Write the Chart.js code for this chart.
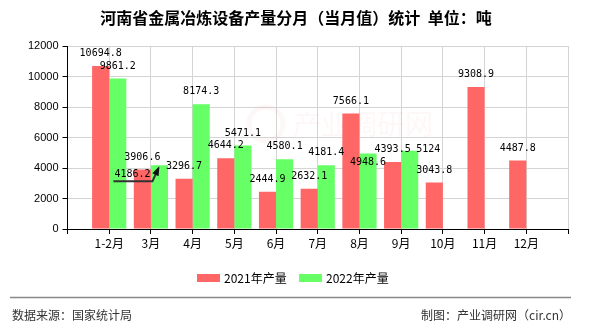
<!DOCTYPE html>
<html lang="zh">
<head>
<meta charset="UTF-8">
<title>河南省金属冶炼设备产量分月（当月值）统计</title>
<script src="https://cdn.jsdelivr.net/npm/chart.js"></script>
<style>
    body { margin: 0; padding: 0; background: #ffffff; }
    #wrap { width: 590px; height: 330px; }
</style>
</head>
<body>
<div id="wrap"><canvas id="chart" width="590" height="330"></canvas></div>
<script>
    // data (unit: tons)
    const months = ['1-2月', '3月', '4月', '5月', '6月', '7月', '8月', '9月', '10月', '11月', '12月'];
    const output2021 = [10694.8, 3906.6, 3296.7, 4644.2, 2444.9, 2632.1, 7566.1, 4393.5, 3043.8, 9308.9, 4487.8];
    const output2022 = [9861.2, 4186.2, 8174.3, 5471.1, 4580.1, 4181.4, 4948.6, 5124, null, null, null];
    const yTicks = [0, 2000, 4000, 6000, 8000, 10000, 12000];

    const titleText = '河南省金属冶炼设备产量分月（当月值）统计  单位：吨';
    const sourceText = '数据来源：国家统计局';
    const makerText = '制图：产业调研网（cir.cn）';

    // empty slot at both ends, like the original axis
    const labels = [''].concat(months, ['']);
    const pad = arr => [null].concat(arr, [null]);

    // labels that were moved away from the bar top in the original
    const labelShift = {
        '2022年产量': {
            '3月': { dx: -27, dy: 21.5, arrow: true },
            '8月': { dx: 0, dy: 21 },
            '9月': { dx: 18.5, dy: 11.5 }
        }
    };

    const valueLabels = {
        id: 'valueLabels',
        afterDatasetsDraw(chart) {
            const ctx = chart.ctx;
            ctx.save();
            ctx.font = '10px "DejaVu Sans Mono", monospace';
            ctx.fillStyle = '#000';
            ctx.textAlign = 'center';
            ctx.textBaseline = 'middle';
            chart.data.datasets.forEach((ds, i) => {
                const meta = chart.getDatasetMeta(i);
                meta.data.forEach((bar, j) => {
                    const v = ds.data[j];
                    if (v === null || v === undefined) return;
                    const shift = (labelShift[ds.label] || {})[labels[j]] || { dx: 0, dy: 0 };
                    const lx = bar.x + shift.dx;
                    const ly = bar.y - 12.5 + shift.dy;
                    const txt = String(v);
                    ctx.fillText(txt, lx, ly);
                    if (shift.arrow) {
                        const w = ctx.measureText(txt).width;
                        const tipX = bar.x - 1, tipY = bar.y + 3;
                        const baseY = ly + 7;
                        ctx.strokeStyle = '#333';
                        ctx.lineWidth = 2;
                        ctx.beginPath();
                        ctx.moveTo(lx - w / 2 - 1, baseY);
                        ctx.lineTo(lx + w / 2 + 2, baseY);
                        ctx.lineTo(tipX, tipY);
                        ctx.stroke();
                        // arrow head
                        const ang = Math.atan2(tipY - baseY, tipX - (lx + w / 2 + 2));
                        ctx.fillStyle = '#111';
                        ctx.beginPath();
                        ctx.moveTo(tipX + Math.cos(ang) * 2, tipY + Math.sin(ang) * 2);
                        ctx.lineTo(tipX - Math.cos(ang - 0.45) * 8, tipY - Math.sin(ang - 0.45) * 8);
                        ctx.lineTo(tipX - Math.cos(ang + 0.45) * 8, tipY - Math.sin(ang + 0.45) * 8);
                        ctx.closePath();
                        ctx.fill();
                        ctx.fillStyle = '#000';
                    }
                });
            });
            ctx.restore();
        }
    };

    // title, legend, footer and faint watermark
    const decorations = {
        id: 'decorations',
        beforeDatasetsDraw(chart) {
            const ctx = chart.ctx;
            ctx.save();
            ctx.fillStyle = 'rgba(235, 90, 90, 0.05)';
            ctx.font = '28px "Noto Sans CJK SC", sans-serif';
            ctx.textBaseline = 'middle';
            ctx.fillText('产业调研网', 293, 124);
            ctx.strokeStyle = 'rgba(235, 90, 90, 0.05)';
            ctx.lineWidth = 5;
            ctx.beginPath();
            ctx.arc(266, 124, 17, 0, Math.PI * 2);
            ctx.stroke();
            ctx.restore();
        },
        afterDraw(chart) {
            const ctx = chart.ctx;
            const W = chart.width;
            ctx.save();
            ctx.fillStyle = '#000';
            ctx.textBaseline = 'middle';
            ctx.textAlign = 'center';
            ctx.font = 'bold 16px "Noto Sans CJK SC", sans-serif';
            ctx.fillText(titleText, W / 2 + 1, 18);

            // legend
            ctx.font = '12px "Noto Sans CJK SC", sans-serif';
            ctx.textAlign = 'left';
            let x = 197;
            chart.data.datasets.forEach(ds => {
                ctx.fillStyle = ds.backgroundColor;
                ctx.fillRect(x, 274, 23, 8);
                ctx.fillStyle = '#000';
                ctx.fillText(ds.label, x + 27, 278);
                x += 102;
            });

            // footer
            ctx.strokeStyle = '#888';
            ctx.lineWidth = 1.5;
            ctx.beginPath();
            ctx.moveTo(10, 297.5);
            ctx.lineTo(571, 297.5);
            ctx.stroke();
            ctx.fillStyle = '#333';
            ctx.font = '12px "Noto Sans CJK SC", sans-serif';
            ctx.fillText(sourceText, 12, 315);
            ctx.textAlign = 'right';
            ctx.fillText(makerText, 571, 315);
            ctx.restore();
        }
    };

    const ctx = document.getElementById('chart').getContext('2d');
    new Chart(ctx, {
        type: 'bar',
        data: {
            labels: labels,
            datasets: [
                { label: '2021年产量', data: pad(output2021), backgroundColor: '#ff6666' },
                { label: '2022年产量', data: pad(output2022), backgroundColor: '#66ff66' }
            ]
        },
        options: {
            responsive: false,
            animation: false,
            devicePixelRatio: 1,
            layout: { padding: { top: 46, right: 22, left: 0, bottom: 0 } },
            datasets: { bar: { categoryPercentage: 0.82, barPercentage: 1.0 } },
            plugins: {
                legend: { display: false },
                title: { display: false },
                tooltip: { enabled: false }
            },
            scales: {
                x: {
                    offset: false,
                    grid: { color: '#d4d4d4', tickColor: '#000', tickLength: 5, offset: false },
                    border: { color: '#000' },
                    ticks: {
                        autoSkip: false, maxRotation: 0, padding: 2, color: '#000',
                        font: { family: '"Noto Sans CJK SC", sans-serif', size: 12 }
                    },
                    afterFit: s => { s.height = 101; }
                },
                y: {
                    min: yTicks[0],
                    max: yTicks[yTicks.length - 1],
                    afterBuildTicks: s => { s.ticks = yTicks.map(v => ({ value: v })); },
                    grid: { color: '#d4d4d4', tickColor: '#000', tickLength: 5 },
                    border: { color: '#000' },
                    ticks: {
                        padding: 4, color: '#000',
                        font: { family: '"Liberation Sans", sans-serif', size: 11 },
                        callback: v => String(v)
                    },
                    afterFit: s => { s.width = 67.5; }
                }
            }
        },
        plugins: [valueLabels, decorations]
    });
</script>
</body>
</html>
